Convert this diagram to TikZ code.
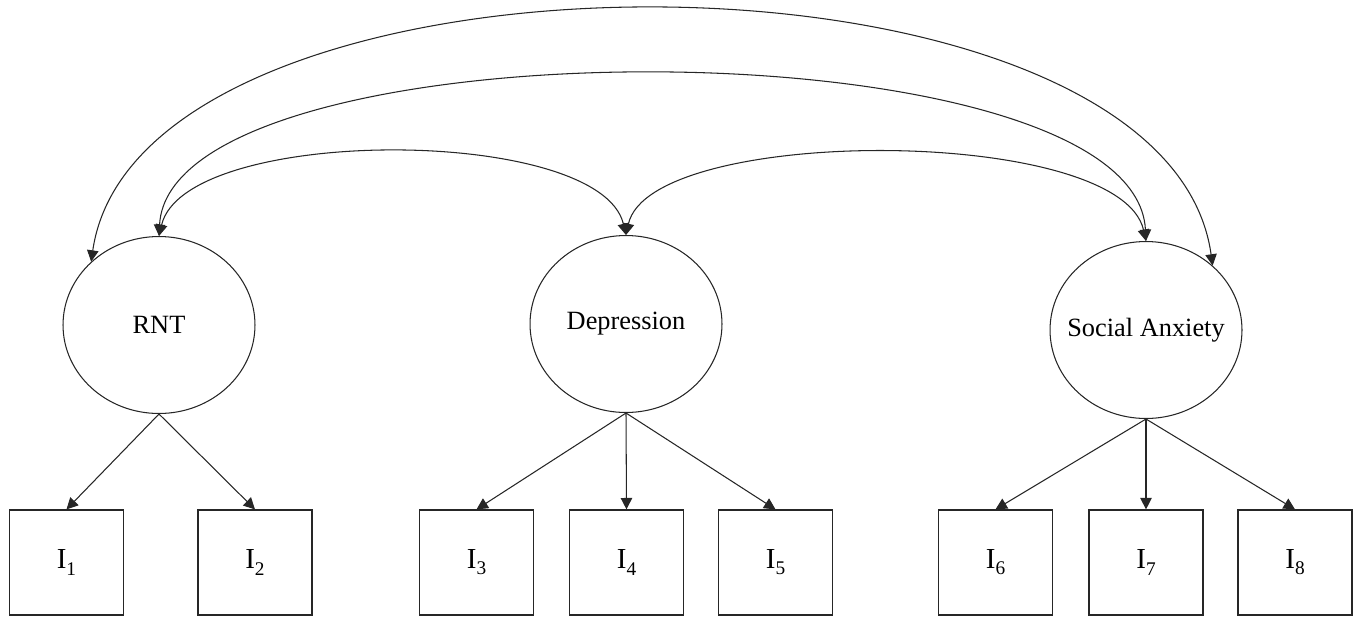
\documentclass[tikz,border=0pt]{standalone}
\usepackage{fontspec}
\setmainfont{Liberation Serif}
\usetikzlibrary{arrows.meta,shapes.geometric}
\newcommand{\isub}[1]{I\raisebox{-3.5pt}{\fontsize{11}{12}\selectfont #1}}
\begin{document}
\begin{tikzpicture}[x=0.02cm,y=-0.02cm,
  lat/.style={ellipse,draw=black!85,line width=0.6pt,minimum width=3.84cm,minimum height=3.54cm,inner xsep=-0.6cm,inner ysep=0pt,font=\fontsize{15}{18}\selectfont},
  ind/.style={rectangle,draw=black!85,line width=0.7pt,minimum width=2.28cm,minimum height=2.1cm,inner sep=0pt,font=\fontsize{16.5}{18}\selectfont},
  tip/.tip={Triangle[length=6.5pt,width=6.5pt]},
  arr/.style={-tip,line width=0.6pt,draw=black!85},
  cov/.style={tip-tip,line width=0.6pt,draw=black!85}]
\useasboundingbox (0,0) rectangle (1358,616);
\node[lat] (rnt) at (159,325) {RNT};
\node[lat] (dep) at (626,324) {Depression};
\node[lat] (sa) at (1146,330) {Social Anxiety};
\node[ind] (i1) at (66.5,562.5) {\isub{1}};
\node[ind] (i2) at (255,562.5) {\isub{2}};
\node[ind] (i3) at (476.5,562.5) {\isub{3}};
\node[ind] (i4) at (626.5,562.5) {\isub{4}};
\node[ind] (i5) at (775.5,562.5) {\isub{5}};
\node[ind] (i6) at (995.5,562.5) {\isub{6}};
\node[ind] (i7) at (1146,562.5) {\isub{7}};
\node[ind] (i8) at (1295,562.5) {\isub{8}};
\draw[arr] (rnt.south) -- (i1.north);
\draw[arr] (rnt.south) -- (i2.north);
\draw[arr] (dep.south) -- (i3.north);
\draw[arr] (dep.south) -- (i4.north);
\draw[arr] (dep.south) -- (i5.north);
\draw[arr] (sa.south) -- (i6.north);
\draw[arr] (sa.south) -- (i7.north);
\draw[arr] (sa.south) -- (i8.north);
\draw[cov] (rnt.north) .. controls (185,125) and (600,125) .. (dep.north);
\draw[cov] (dep.north) .. controls (650,125) and (1120,125) .. (sa.north);
\draw[cov] (rnt.north) .. controls (170,20) and (1135,20) .. (sa.north);
\draw[cov] (rnt.137) .. controls (140,-75) and (1165,-75) .. (sa.44);
\end{tikzpicture}
\end{document}
